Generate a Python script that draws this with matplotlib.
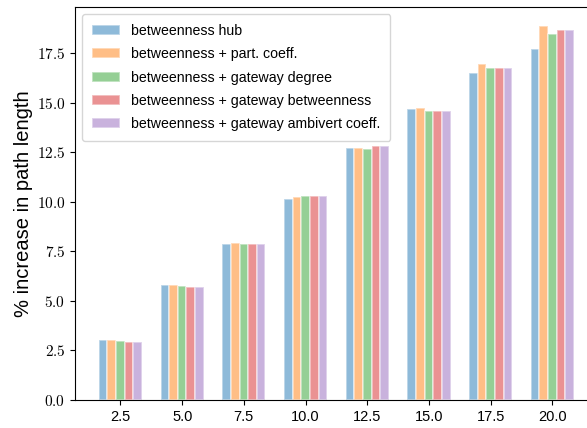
import matplotlib
matplotlib.use('Agg')
import matplotlib.pyplot as plt
import numpy as np
from matplotlib.ticker import FuncFormatter

plt.rcParams['font.family'] = ['Liberation Sans', 'DejaVu Sans']
plt.rcParams['mathtext.fontset'] = 'cm'

# percentage of removed nodes (group positions)
removed = [2.5, 5.0, 7.5, 10.0, 12.5, 15.0, 17.5, 20.0]

labels = ['betweenness hub',
          'betweenness + part. coeff.',
          'betweenness + gateway degree',
          'betweenness + gateway betweenness',
          'betweenness + gateway ambivert coeff.']

hub = [3.04, 5.80, 7.88, 10.15, 12.70, 14.66, 16.50, 17.70]
part_coeff = [3.05, 5.82, 7.90, 10.22, 12.73, 14.71, 16.95, 18.88]
gw_degree = [2.97, 5.73, 7.85, 10.27, 12.67, 14.57, 16.73, 18.45]
gw_betweenness = [2.95, 5.71, 7.87, 10.27, 12.80, 14.57, 16.75, 18.67]
gw_ambivert = [2.95, 5.71, 7.87, 10.27, 12.80, 14.57, 16.75, 18.67]

series = [hub, part_coeff, gw_degree, gw_betweenness, gw_ambivert]
colors = ['tab:blue', 'tab:orange', 'tab:green', 'tab:red', 'tab:purple']

fig = plt.figure(figsize=(5.87, 4.28), dpi=100)
# right edge of the axes falls just outside the canvas
ax = fig.add_axes([0.1278, 0.0654, 0.91, 0.918])

x = np.array(removed)
width = 0.35
for i, (vals, lab, col) in enumerate(zip(series, labels, colors)):
    offset = (i - 2) * width
    ax.bar(x + offset, vals, width, label=lab, color=col, alpha=0.5,
           edgecolor='white', linewidth=1.2)

ax.set_xlim(0.66, 22.3)
ax.set_xticks(removed)
ax.set_xticklabels([f'{v:.1f}' for v in removed], fontsize=10.5)
ax.set_yticks(np.arange(0, 18, 2.5))
ax.yaxis.set_major_formatter(FuncFormatter(lambda v, p: f'${v:.1f}$'))
ax.tick_params(axis='y', labelsize=11)
ax.set_ylabel('% increase in path length', fontsize=14.5, labelpad=3)

ax.legend(loc='upper left', fontsize=10.2, borderpad=0.68, labelspacing=0.66)

fig.savefig('out.png', dpi=100)
